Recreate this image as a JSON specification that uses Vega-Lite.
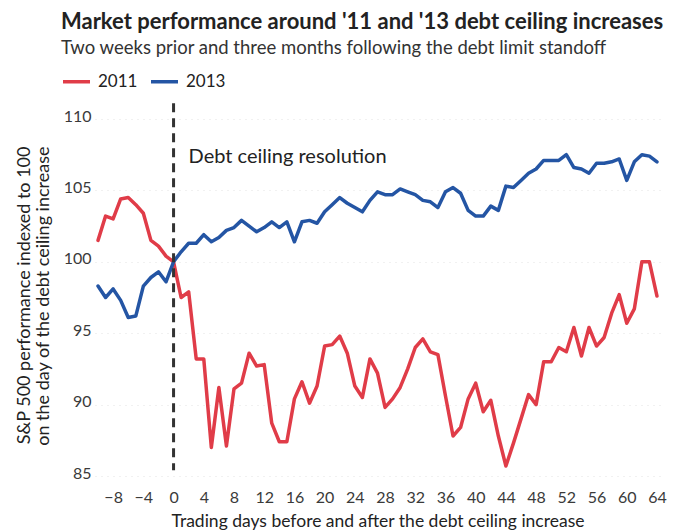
{
  "$schema": "https://vega.github.io/schema/vega-lite/v6.json",
  "autosize": {"type": "none"},
  "width": 565,
  "height": 357,
  "padding": {"left": 95, "top": 119, "right": 18, "bottom": 56},
  "background": "white",
  "title": {
    "text": "Market performance around '11 and '13 debt ceiling increases",
    "subtitle": "Two weeks prior and three months following the debt limit standoff",
    "anchor": "start",
    "frame": "group",
    "dx": -34,
    "font": "Lato",
    "fontSize": 22,
    "fontWeight": "bold",
    "color": "#222222",
    "subtitleFont": "Lato",
    "subtitleFontSize": 18.5,
    "subtitleColor": "#333333",
    "subtitlePadding": 5,
    "offset": 8
  },
  "config": {
    "view": {"stroke": null},
    "font": "Lato"
  },
  "data": {"values": [
    {"d":-10,"s":"2011","v":101.5},{"d":-9,"s":"2011","v":103.2},{"d":-8,"s":"2011","v":103.0},{"d":-7,"s":"2011","v":104.4},{"d":-6,"s":"2011","v":104.5},{"d":-5,"s":"2011","v":104.0},{"d":-4,"s":"2011","v":103.4},{"d":-3,"s":"2011","v":101.5},{"d":-2,"s":"2011","v":101.1},{"d":-1,"s":"2011","v":100.4},
    {"d":0,"s":"2011","v":100.0},{"d":1,"s":"2011","v":97.5},{"d":2,"s":"2011","v":97.9},{"d":3,"s":"2011","v":93.2},{"d":4,"s":"2011","v":93.2},{"d":5,"s":"2011","v":87.0},{"d":6,"s":"2011","v":91.2},{"d":7,"s":"2011","v":87.1},{"d":8,"s":"2011","v":91.1},{"d":9,"s":"2011","v":91.5},
    {"d":10,"s":"2011","v":93.6},{"d":11,"s":"2011","v":92.7},{"d":12,"s":"2011","v":92.8},{"d":13,"s":"2011","v":88.7},{"d":14,"s":"2011","v":87.4},{"d":15,"s":"2011","v":87.4},{"d":16,"s":"2011","v":90.4},{"d":17,"s":"2011","v":91.6},{"d":18,"s":"2011","v":90.1},{"d":19,"s":"2011","v":91.3},
    {"d":20,"s":"2011","v":94.1},{"d":21,"s":"2011","v":94.2},{"d":22,"s":"2011","v":94.8},{"d":23,"s":"2011","v":93.6},{"d":24,"s":"2011","v":91.3},{"d":25,"s":"2011","v":90.5},{"d":26,"s":"2011","v":93.2},{"d":27,"s":"2011","v":92.2},{"d":28,"s":"2011","v":89.8},{"d":29,"s":"2011","v":90.4},
    {"d":30,"s":"2011","v":91.2},{"d":31,"s":"2011","v":92.5},{"d":32,"s":"2011","v":94.0},{"d":33,"s":"2011","v":94.6},{"d":34,"s":"2011","v":93.7},{"d":35,"s":"2011","v":93.5},{"d":36,"s":"2011","v":90.6},{"d":37,"s":"2011","v":87.8},{"d":38,"s":"2011","v":88.4},{"d":39,"s":"2011","v":90.4},
    {"d":40,"s":"2011","v":91.5},{"d":41,"s":"2011","v":89.5},{"d":42,"s":"2011","v":90.3},{"d":43,"s":"2011","v":87.8},{"d":44,"s":"2011","v":85.7},{"d":45,"s":"2011","v":87.3},{"d":46,"s":"2011","v":89.0},{"d":47,"s":"2011","v":90.7},{"d":48,"s":"2011","v":90.0},{"d":49,"s":"2011","v":93.0},
    {"d":50,"s":"2011","v":93.0},{"d":51,"s":"2011","v":94.0},{"d":52,"s":"2011","v":93.7},{"d":53,"s":"2011","v":95.4},{"d":54,"s":"2011","v":93.4},{"d":55,"s":"2011","v":95.4},{"d":56,"s":"2011","v":94.1},{"d":57,"s":"2011","v":94.7},{"d":58,"s":"2011","v":96.4},{"d":59,"s":"2011","v":97.7},
    {"d":60,"s":"2011","v":95.7},{"d":61,"s":"2011","v":96.7},{"d":62,"s":"2011","v":100.0},{"d":63,"s":"2011","v":100.0},{"d":64,"s":"2011","v":97.6},
    {"d":-10,"s":"2013","v":98.3},{"d":-9,"s":"2013","v":97.5},{"d":-8,"s":"2013","v":98.1},{"d":-7,"s":"2013","v":97.3},{"d":-6,"s":"2013","v":96.1},{"d":-5,"s":"2013","v":96.2},{"d":-4,"s":"2013","v":98.3},{"d":-3,"s":"2013","v":98.9},{"d":-2,"s":"2013","v":99.3},{"d":-1,"s":"2013","v":98.6},
    {"d":0,"s":"2013","v":100.0},{"d":1,"s":"2013","v":100.7},{"d":2,"s":"2013","v":101.3},{"d":3,"s":"2013","v":101.3},{"d":4,"s":"2013","v":101.9},{"d":5,"s":"2013","v":101.4},{"d":6,"s":"2013","v":101.7},{"d":7,"s":"2013","v":102.2},{"d":8,"s":"2013","v":102.4},{"d":9,"s":"2013","v":102.9},
    {"d":10,"s":"2013","v":102.5},{"d":11,"s":"2013","v":102.1},{"d":12,"s":"2013","v":102.4},{"d":13,"s":"2013","v":102.8},{"d":14,"s":"2013","v":102.4},{"d":15,"s":"2013","v":102.8},{"d":16,"s":"2013","v":101.4},{"d":17,"s":"2013","v":102.8},{"d":18,"s":"2013","v":102.9},{"d":19,"s":"2013","v":102.7},
    {"d":20,"s":"2013","v":103.5},{"d":21,"s":"2013","v":104.0},{"d":22,"s":"2013","v":104.5},{"d":23,"s":"2013","v":104.1},{"d":24,"s":"2013","v":103.8},{"d":25,"s":"2013","v":103.5},{"d":26,"s":"2013","v":104.3},{"d":27,"s":"2013","v":104.9},{"d":28,"s":"2013","v":104.7},{"d":29,"s":"2013","v":104.7},
    {"d":30,"s":"2013","v":105.1},{"d":31,"s":"2013","v":104.9},{"d":32,"s":"2013","v":104.7},{"d":33,"s":"2013","v":104.3},{"d":34,"s":"2013","v":104.2},{"d":35,"s":"2013","v":103.8},{"d":36,"s":"2013","v":104.9},{"d":37,"s":"2013","v":105.2},{"d":38,"s":"2013","v":104.8},{"d":39,"s":"2013","v":103.6},
    {"d":40,"s":"2013","v":103.2},{"d":41,"s":"2013","v":103.2},{"d":42,"s":"2013","v":103.9},{"d":43,"s":"2013","v":103.6},{"d":44,"s":"2013","v":105.3},{"d":45,"s":"2013","v":105.2},{"d":46,"s":"2013","v":105.7},{"d":47,"s":"2013","v":106.2},{"d":48,"s":"2013","v":106.5},{"d":49,"s":"2013","v":107.1},
    {"d":50,"s":"2013","v":107.1},{"d":51,"s":"2013","v":107.1},{"d":52,"s":"2013","v":107.5},{"d":53,"s":"2013","v":106.6},{"d":54,"s":"2013","v":106.5},{"d":55,"s":"2013","v":106.2},{"d":56,"s":"2013","v":106.9},{"d":57,"s":"2013","v":106.9},{"d":58,"s":"2013","v":107.0},{"d":59,"s":"2013","v":107.2},
    {"d":60,"s":"2013","v":105.7},{"d":61,"s":"2013","v":107.0},{"d":62,"s":"2013","v":107.5},{"d":63,"s":"2013","v":107.4},{"d":64,"s":"2013","v":107.0}
  ]},
  "layer": [
    {
      "mark": {"type": "line", "strokeWidth": 3.5, "strokeJoin": "round", "strokeCap": "round"},
      "encoding": {
        "x": {
          "field": "d", "type": "quantitative",
          "scale": {"domain": [-10.4, 64.4], "nice": false, "zero": false},
          "axis": {
            "values": [-8,-4,0,4,8,12,16,20,24,28,32,36,40,44,48,52,56,60,64],
            "tickCount": 40,
            "title": "Trading days before and after the debt ceiling increase",
            "grid": false, "domain": false, "ticks": false, "tickSize": 0,
            "labelOverlap": false, "labelFlush": false,
            "labelPadding": 13, "labelFont": "Lato", "labelFontSize": 16, "labelColor": "#3a3a3a",
            "titleFont": "Lato", "titleFontSize": 17.5, "titleFontWeight": "normal", "titleColor": "#222222",
            "titleY": 36, "titleBaseline": "top"
          }
        },
        "y": {
          "field": "v", "type": "quantitative",
          "scale": {"domain": [85, 110], "nice": false, "zero": false},
          "axis": {
            "values": [85, 90, 95, 100, 105, 110],
            "tickCount": 20,
            "title": ["S&P 500 performance indexed to 100", "on the day of the debt ceiling increase"],
            "grid": true, "gridColor": "#e2e2e2", "gridDash": [1, 5], "gridWidth": 1,
            "domain": false, "ticks": false, "tickSize": 0, "labelOverlap": false,
            "labelPadding": 4, "labelOffset": -3, "labelFont": "Lato", "labelFontSize": 16, "labelColor": "#3a3a3a",
            "titleFont": "Lato", "titleFontSize": 18, "titleFontWeight": "normal", "titleColor": "#222222",
            "titleX": -80, "titleY": 27, "titleAlign": "right", "titleBaseline": "top", "titleLineHeight": 19, "titleAngle": -90
          }
        },
        "color": {
          "field": "s", "type": "nominal",
          "scale": {"domain": ["2011", "2013"], "range": ["#e03c48", "#2455a4"]},
          "legend": {
            "title": null, "orient": "none", "direction": "horizontal",
            "legendX": -34, "legendY": -53,
            "symbolType": "stroke", "symbolSize": 729, "symbolStrokeWidth": 3.5,
            "labelFont": "Lato", "labelFontSize": 17, "labelColor": "#222222",
            "labelOffset": 6, "columnPadding": 6
          }
        }
      }
    },
    {
      "data": {"values": [{}]},
      "mark": {"type": "rule", "strokeDash": [9, 6], "strokeWidth": 3, "color": "#333333"},
      "encoding": {
        "x": {"datum": 0, "type": "quantitative"},
        "y": {"datum": 111.1, "type": "quantitative"},
        "y2": {"datum": 85.4}
      }
    },
    {
      "data": {"values": [{}]},
      "mark": {"type": "text", "text": "Debt ceiling resolution", "align": "left", "baseline": "middle", "dx": 15, "font": "Lato", "fontSize": 20, "color": "#222222"},
      "encoding": {
        "x": {"datum": 0, "type": "quantitative"},
        "y": {"datum": 107.35, "type": "quantitative"}
      }
    }
  ]
}
